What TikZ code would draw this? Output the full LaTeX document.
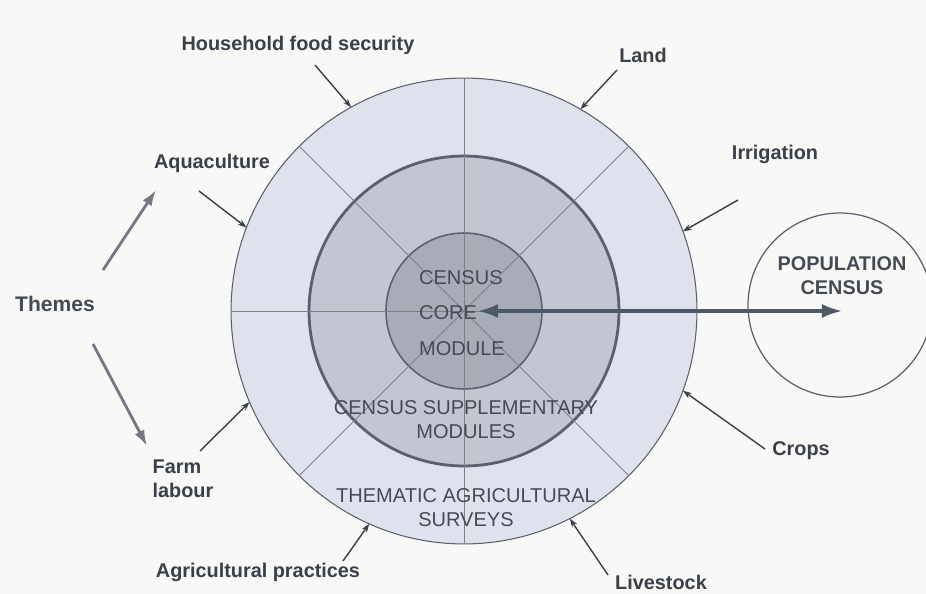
\documentclass[tikz,border=0pt]{standalone}
\usepackage{fontspec}
\setmainfont{Liberation Sans}
\usetikzlibrary{arrows.meta}

\definecolor{ink}{HTML}{3A3F48}
\definecolor{softink}{HTML}{454A54}
\definecolor{paper}{HTML}{F8F8F6}
\definecolor{ringout}{HTML}{DFE2EC}
\definecolor{ringmid}{HTML}{C2C6D0}
\definecolor{ringin}{HTML}{A8ACB6}
\definecolor{edge}{HTML}{5A606C}
\definecolor{slate}{HTML}{4E5968}

\begin{document}
\begin{tikzpicture}[x=0.02cm, y=-0.02cm,
    ring/.style={circle, inner sep=0pt, outer sep=0pt, draw=edge},
    theme/.style={font=\fontsize{11.3}{13.5}\selectfont\bfseries, text=ink},
    zone/.style={font=\fontsize{11.4}{13.6}\selectfont, text=softink, align=center},
    pointer/.style={-{Stealth[length=5pt, width=3.5pt]}, line width=0.8pt, draw=ink},
    lead/.style={-{Latex[length=9pt, width=6pt]}, line width=1.6pt, draw=edge!85},
    spoke/.style={line width=0.5pt, draw=edge!80}]
    \useasboundingbox (0,0) rectangle (926,594);
    \fill[paper] (0,0) rectangle (926,594);
    \clip (0,0) rectangle (926,594);
    % rings
    \node[ring, fill=ringout, line width=0.6pt, minimum size=9.32cm] (outer) at (464,311) {};
    \node[ring, fill=ringmid, line width=1.6pt, minimum size=6.2cm] (supp) at (464,311) {};
    \node[ring, fill=ringin, line width=0.9pt, minimum size=3.12cm] (core) at (464,311) {};
    \node[ring, fill=paper, line width=0.7pt, minimum size=3.68cm] (pop) at (840,305) {};
    % spokes
    \foreach \a/\b in {0/180, 45/225, 90/270, 135/315}
        \draw[spoke] (outer.\a) -- (outer.\b);
    % texts
    \node[zone, font=\fontsize{11.4}{20}\selectfont, align=left] (coretext) at (462,313) {CENSUS\\CORE\\MODULE};
    \node[zone] (supptext) at (466,420) {CENSUS SUPPLEMENTARY\\MODULES};
    \node[zone] (surveys) at (466,508) {THEMATIC AGRICULTURAL\\SURVEYS};
    \node[theme, text=softink, align=center] (poptext) at (842,276) {POPULATION\\CENSUS};

    \node[theme] (food) at (298,45) {Household food security};
    \node[theme] (land) at (643,55) {Land};
    \node[theme] (aqua) at (212,163) {Aquaculture};
    \node[theme] (irrig) at (775,154) {Irrigation};
    \node[theme, font=\fontsize{12}{14}\selectfont\bfseries, text=softink] (themes) at (55,304) {Themes};
    \node[theme, align=left] (labour) at (183,479) {Farm\\labour};
    \node[theme] (practices) at (258,572) {Agricultural practices};
    \node[theme] (crops) at (801,451) {Crops};
    \node[theme] (stock) at (661,582) {Livestock};
    % arrow tails
    \coordinate (foodtail) at (315,65);
    \coordinate (landtail) at (617,70);
    \coordinate (aquatail) at (199,191);
    \coordinate (irrigtail) at (738,200);
    \coordinate (labourtail) at (200,451);
    \coordinate (practail) at (343,561);
    \coordinate (cropstail) at (765,449);
    \coordinate (stocktail) at (608,575);
    \coordinate (up1) at (103,270);
    \coordinate (up2) at (156,190);
    \coordinate (down1) at (93,344);
    \coordinate (down2) at (147,446);
    \coordinate (coretip) at (477,311);
    \coordinate (poptip) at (843,311);
    % edges
    \draw[pointer] (foodtail) -- (outer.119);
    \draw[pointer] (landtail) -- (outer.60);
    \draw[pointer] (aquatail) -- (outer.159);
    \draw[pointer] (irrigtail) -- (outer.20);
    \draw[pointer] (labourtail) -- (outer.203);
    \draw[pointer] (practail) -- (outer.246);
    \draw[pointer] (cropstail) -- (outer.340);
    \draw[pointer] (stocktail) -- (outer.297);

    \draw[lead] (up1) -- (up2);
    \draw[lead] (down1) -- (down2);

    \draw[{Latex[length=12pt, width=8pt]}-{Latex[length=12pt, width=8pt]}, line width=2.4pt, draw=slate] (coretip) -- (poptip);
\end{tikzpicture}
\end{document}
